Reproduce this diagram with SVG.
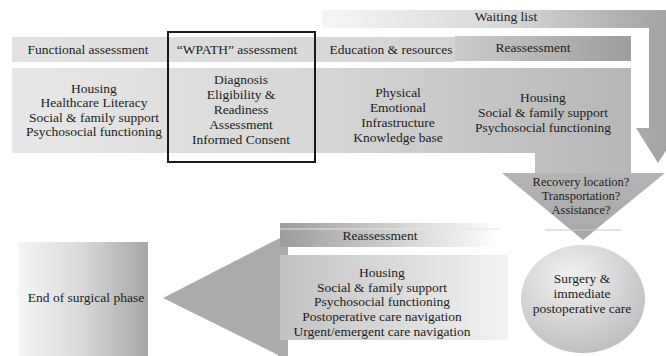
<svg xmlns="http://www.w3.org/2000/svg" width="666" height="356" viewBox="0 0 666 356">
  <defs>
    <linearGradient id="gWait" gradientUnits="userSpaceOnUse" x1="322" y1="0" x2="668" y2="0">
      <stop offset="0" stop-color="#f6f6f6"/>
      <stop offset="0.55" stop-color="#d6d6d6"/>
      <stop offset="0.93" stop-color="#a9a9a9"/>
      <stop offset="1" stop-color="#a4a4a4"/>
    </linearGradient>
    <linearGradient id="gHead" gradientUnits="userSpaceOnUse" x1="12" y1="0" x2="455" y2="0">
      <stop offset="0" stop-color="#e2e2e2"/>
      <stop offset="1" stop-color="#d4d4d4"/>
    </linearGradient>
    <linearGradient id="gReHead" gradientUnits="userSpaceOnUse" x1="455" y1="0" x2="631" y2="0">
      <stop offset="0" stop-color="#cbcbcb"/>
      <stop offset="1" stop-color="#9e9e9e"/>
    </linearGradient>
    <linearGradient id="gRow" gradientUnits="userSpaceOnUse" x1="12" y1="0" x2="631" y2="0">
      <stop offset="0" stop-color="#e8e8e8"/>
      <stop offset="0.5" stop-color="#d6d6d6"/>
      <stop offset="1" stop-color="#b6b6b6"/>
    </linearGradient>
    <linearGradient id="gTri" gradientUnits="userSpaceOnUse" x1="0" y1="173" x2="0" y2="240">
      <stop offset="0" stop-color="#b4b4b4"/>
      <stop offset="1" stop-color="#a8a8a8"/>
    </linearGradient>
    <radialGradient id="gCircle" cx="0.4" cy="0.3" r="0.75">
      <stop offset="0" stop-color="#f2f2f2"/>
      <stop offset="1" stop-color="#bdbdbd"/>
    </radialGradient>
    <linearGradient id="gEnd" x1="0" y1="0" x2="1" y2="0">
      <stop offset="0" stop-color="#f6f6f6"/>
      <stop offset="0.5" stop-color="#d8d8d8"/>
      <stop offset="1" stop-color="#a6a6a6"/>
    </linearGradient>
    <linearGradient id="gBotBand" gradientUnits="userSpaceOnUse" x1="280" y1="0" x2="500" y2="0">
      <stop offset="0" stop-color="#9c9c9c"/>
      <stop offset="0.6" stop-color="#d8d8d8"/>
      <stop offset="1" stop-color="#ffffff"/>
    </linearGradient>
    <linearGradient id="gBotBox" gradientUnits="userSpaceOnUse" x1="280" y1="0" x2="508" y2="0">
      <stop offset="0" stop-color="#c2c2c2"/>
      <stop offset="1" stop-color="#f2f2f2"/>
    </linearGradient>
    <style>
      text { font-family: "Liberation Serif", "Times New Roman", serif; font-size: 13.5px; fill: #1c1c1c; text-anchor: middle; }
      .sm { font-size: 12.5px; }
    </style>
  </defs>

  <rect width="666" height="356" fill="#ffffff"/>

  <g id="connectors">
    <path d="M322,10 H668 V128 H681 L658,163 L636,128 H649 V28 H322 Z" fill="url(#gWait)"/>
    <path d="M502,173 H665 L583,240 Z" fill="url(#gTri)"/>
    <line x1="545" y1="230" x2="621" y2="230" stroke="#c8c8c8" stroke-width="1"/>
    <path d="M163,298 L280,238 V356 Z" fill="#ababab"/>
    <rect x="278" y="247" width="10" height="109" fill="#ababab"/>
  </g>

  <g id="waiting-list">
    <text x="506" y="21">Waiting list</text>
  </g>

  <g id="content-row">
    <rect x="12" y="37" width="443" height="25" fill="url(#gHead)"/>
    <rect x="455" y="36" width="176" height="25" fill="url(#gReHead)"/>
    <path d="M12,68 H631 V173 H535 V153 H12 Z" fill="url(#gRow)"/>
  </g>

  <g id="functional-assessment">
    <text x="88" y="54">Functional assessment</text>
    <text x="94" y="92.5">Housing</text>
    <text x="94" y="107">Healthcare Literacy</text>
    <text x="94" y="121.5">Social &amp; family support</text>
    <text x="94" y="136">Psychosocial functioning</text>
  </g>

  <g id="wpath-assessment">
    <text x="237" y="54">“WPATH” assessment</text>
    <text x="241" y="84">Diagnosis</text>
    <text x="241" y="99">Eligibility &amp;</text>
    <text x="241" y="114">Readiness</text>
    <text x="241" y="129">Assessment</text>
    <text x="241" y="144">Informed Consent</text>
    <rect x="168" y="32" width="147" height="130" fill="none" stroke="#1a1a1a" stroke-width="2"/>
  </g>

  <g id="education-resources">
    <text x="391" y="54">Education &amp; resources</text>
    <text x="398" y="97">Physical</text>
    <text x="398" y="112">Emotional</text>
    <text x="398" y="127">Infrastructure</text>
    <text x="398" y="141.5">Knowledge base</text>
  </g>

  <g id="reassessment-top">
    <text x="533" y="52">Reassessment</text>
    <text x="543" y="102">Housing</text>
    <text x="543" y="117">Social &amp; family support</text>
    <text x="543" y="131.5">Psychosocial functioning</text>
  </g>

  <g id="recovery-questions">
    <text class="sm" x="581" y="186">Recovery location?</text>
    <text class="sm" x="581" y="200">Transportation?</text>
    <text class="sm" x="581" y="214">Assistance?</text>
  </g>

  <g id="surgery">
    <ellipse cx="583" cy="299" rx="62" ry="54" fill="url(#gCircle)"/>
    <text x="582" y="282.5">Surgery &amp;</text>
    <text x="582" y="297.5">immediate</text>
    <text x="582" y="312.5">postoperative care</text>
  </g>

  <g id="reassessment-bottom">
    <rect x="280" y="223" width="220" height="24" fill="url(#gBotBand)"/>
    <line x1="280" y1="229" x2="500" y2="229" stroke="#e6e6e6" stroke-width="1"/>
    <text x="380" y="239.5">Reassessment</text>
    <rect x="280" y="255" width="228" height="85" fill="url(#gBotBox)"/>
    <text x="382" y="276.5">Housing</text>
    <text x="382" y="291.5">Social &amp; family support</text>
    <text x="382" y="305.5">Psychosocial functioning</text>
    <text x="382" y="321">Postoperative care navigation</text>
    <text x="382" y="335.5">Urgent/emergent care navigation</text>
  </g>

  <g id="end-of-surgical-phase">
    <rect x="18" y="242" width="130" height="114" fill="url(#gEnd)"/>
    <text x="86" y="301.5">End of surgical phase</text>
  </g>
</svg>
